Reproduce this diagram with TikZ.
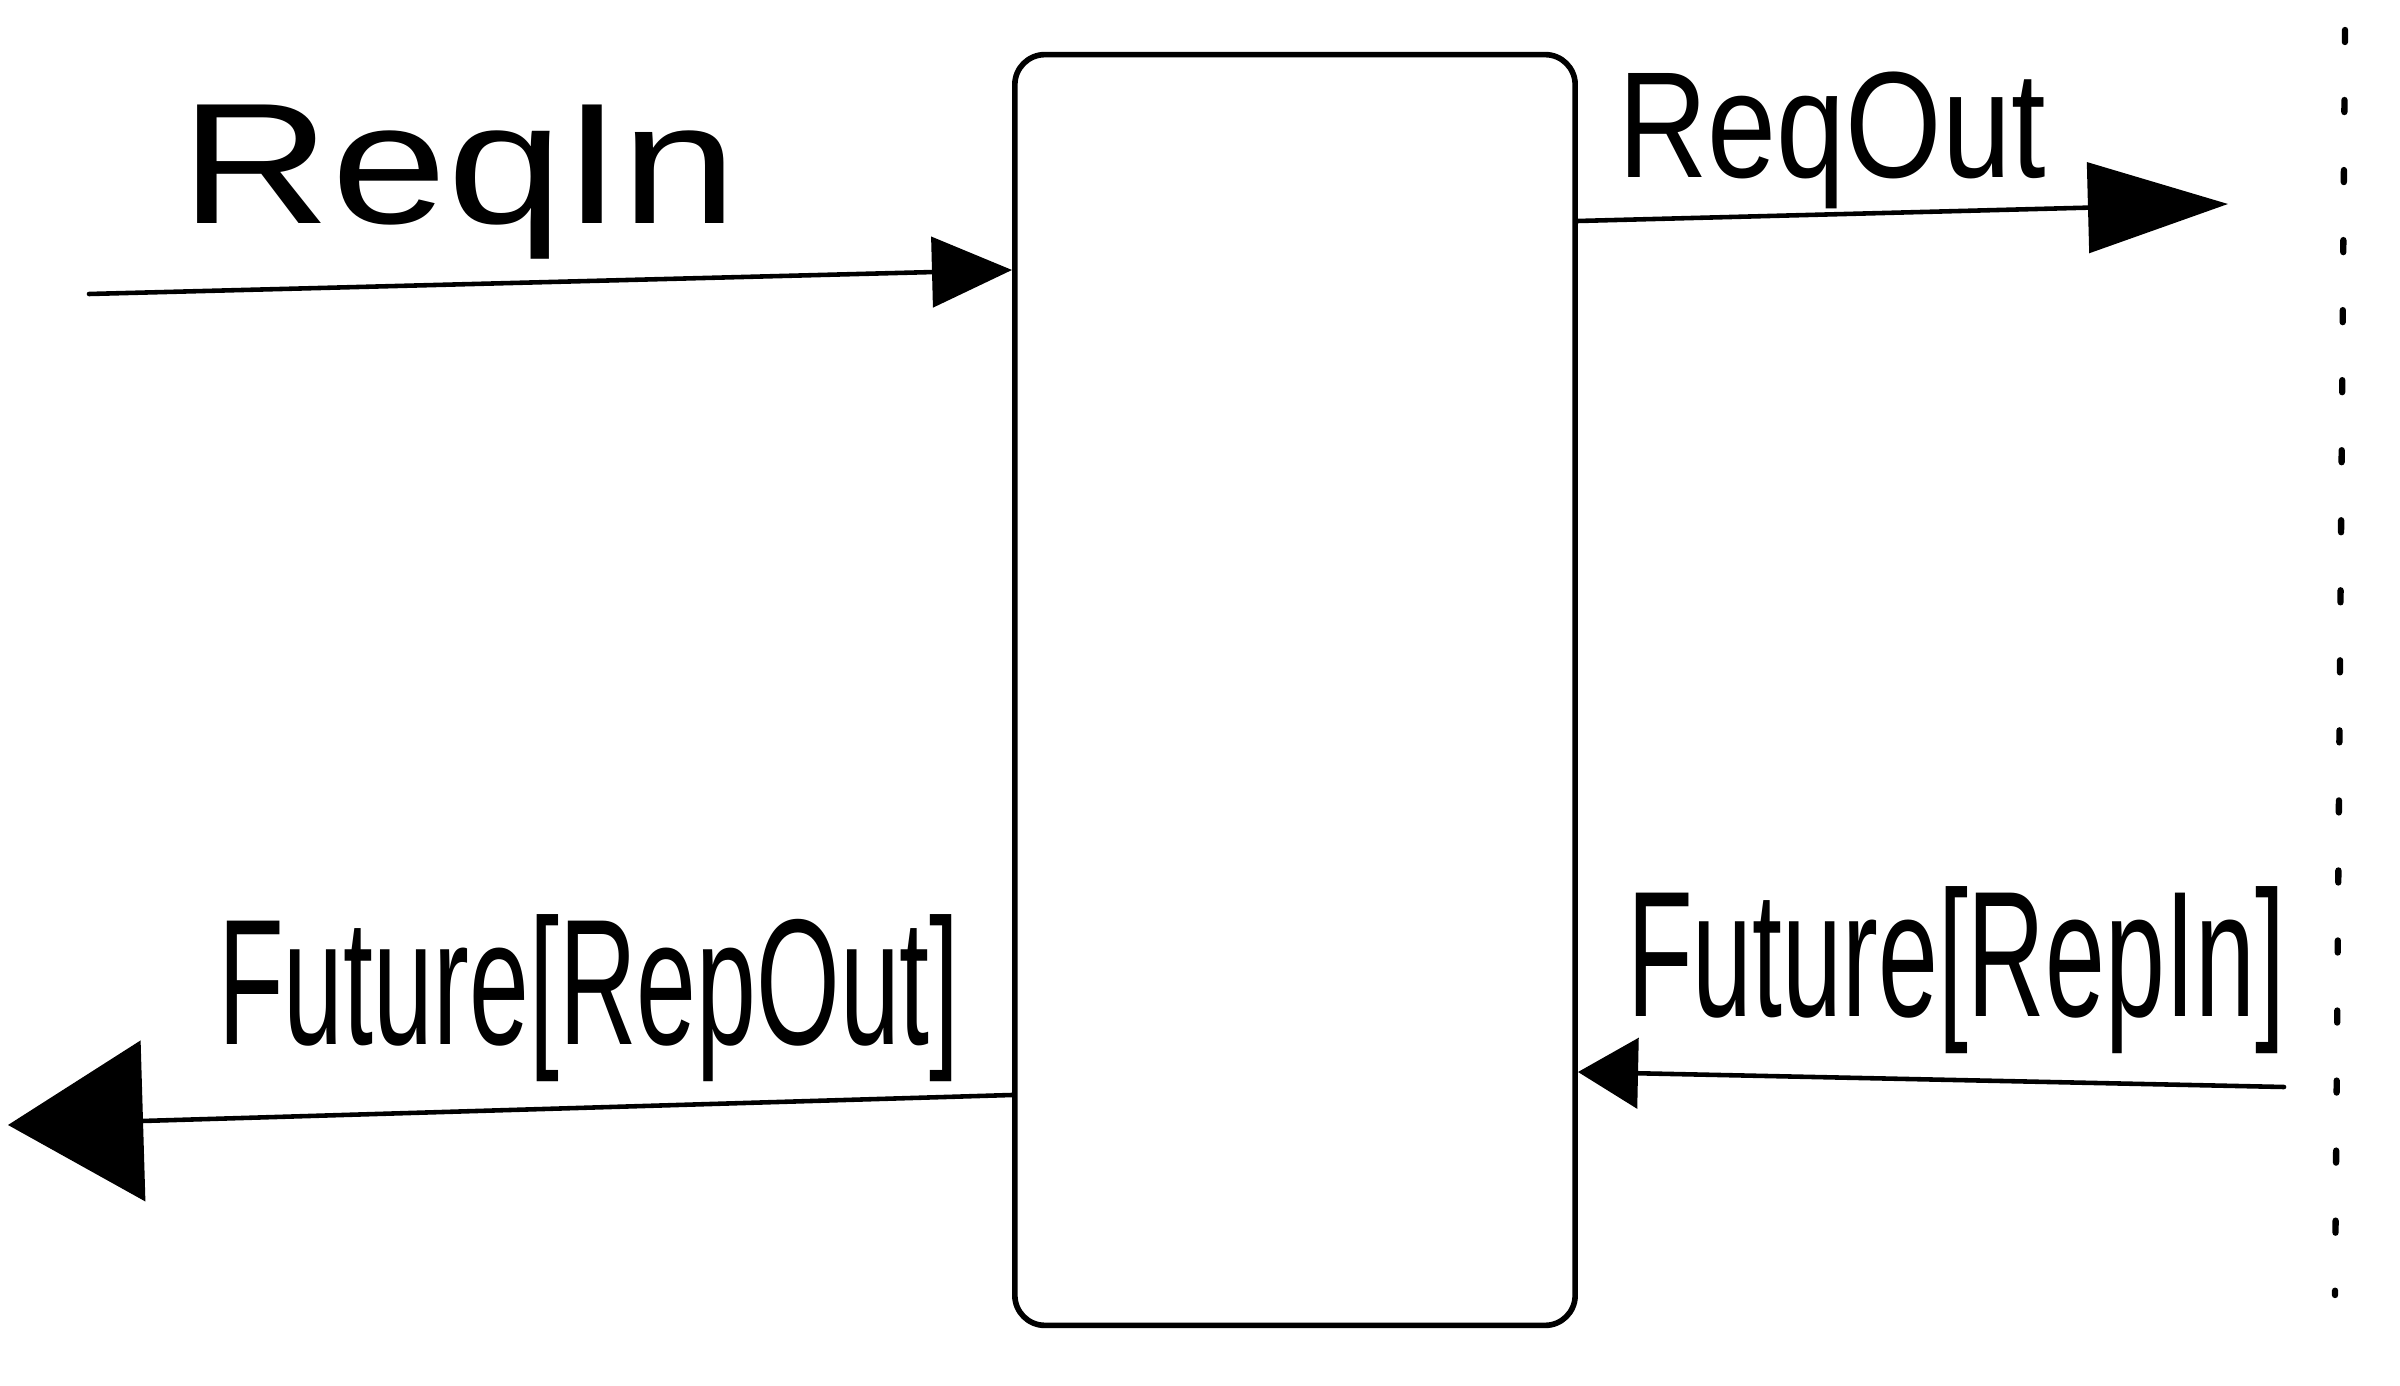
\documentclass[tikz,border=0pt]{standalone}
\usepackage{fontspec}
\setmainfont{Liberation Sans}
\usetikzlibrary{arrows.meta}
\begin{document}
\begin{tikzpicture}[x=0.01cm,y=-0.01cm,
  wire/.style={line width=1.3pt,line cap=round},
  lbl/.style={inner sep=0pt}]
\useasboundingbox (0,0) rectangle (2400,1386);
\node[draw,line width=1.6pt,rounded corners=0.3cm,minimum width=5.6cm,minimum height=12.7cm,inner sep=0pt] (box) at (1295,690) {};
% end points
\coordinate (inA) at (89,294);
\coordinate (outB) at (2228,204);
\coordinate (outC) at (8,1125);
\coordinate (inD) at (2284,1087);
\draw[wire,-{Triangle[length=0.8cm,width=0.7cm]}] (inA) -- (box.west |- 0,270);
\draw[wire,-{Triangle[length=1.4cm,width=0.9cm]}] (box.east |- 0,221) -- (outB);
\draw[wire,-{Triangle[length=1.35cm,width=1.6cm]}] (box.west |- 0,1095) -- (outC);
\draw[wire,-{Triangle[length=0.6cm,width=0.7cm]}] (inD) -- (box.east |- 0,1072);
% labels
\node[lbl] (tA) at (459,182) {\fontsize{49}{52}\selectfont\scalebox{1.21}[1]{ReqIn}};
\node[lbl] (tB) at (1832,140) {\fontsize{43}{46}\selectfont\scalebox{0.82}[1]{ReqOut}};
\node[lbl] (tC) at (589,998) {\fontsize{51}{54}\selectfont\scalebox{0.6}[1]{Future[RepOut]}};
\node[lbl] (tD) at (1956,970) {\fontsize{51}{54}\selectfont\scalebox{0.6}[1]{Future[RepIn]}};
% dashed boundary
\coordinate (dtop) at (2345,30);
\coordinate (dbot) at (2335,1295);
\draw[line width=1.8pt,line cap=round,dash pattern=on 0.12cm off 0.58cm] (dtop) -- (dbot);
\end{tikzpicture}
\end{document}
